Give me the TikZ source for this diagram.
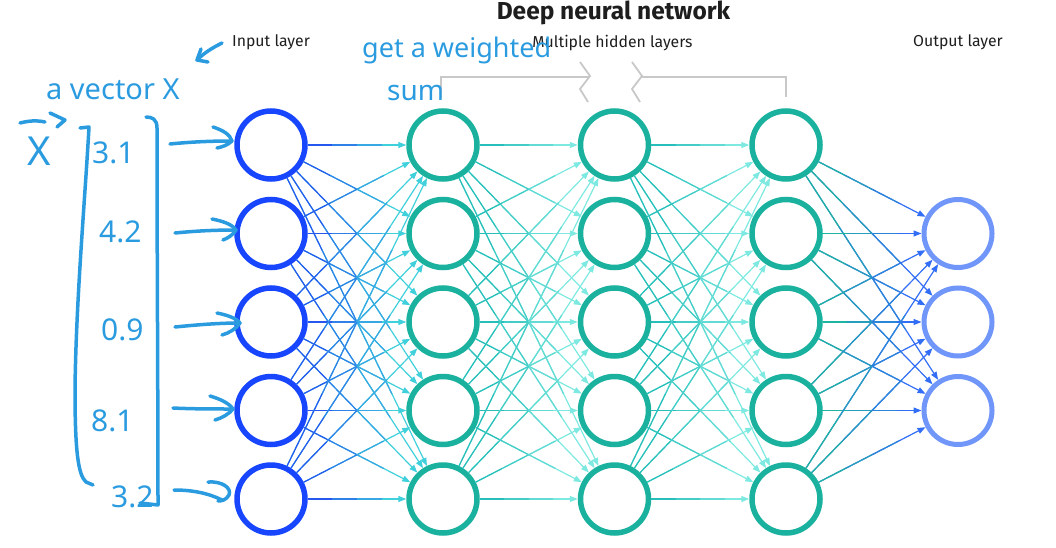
\documentclass[tikz,border=0pt]{standalone}
\usepackage{fontspec}
\setmainfont{Fira Sans}
\newfontfamily\hand{Noto Sans}
\usetikzlibrary{arrows.meta}
\definecolor{inc}{RGB}{24,70,255}
\definecolor{hidc}{RGB}{26,178,158}
\definecolor{outc}{RGB}{112,150,250}
\definecolor{handc}{RGB}{43,155,224}
\definecolor{grayc}{RGB}{200,200,200}
\definecolor{txtc}{RGB}{30,30,30}
\definecolor{cAs}{RGB}{38,88,240}
\definecolor{cAe}{RGB}{64,208,220}
\definecolor{cBs}{RGB}{40,190,185}
\definecolor{cBe}{RGB}{125,233,224}
\definecolor{cDs}{RGB}{30,180,160}
\definecolor{cDe}{RGB}{50,110,245}
\newcommand\gconn[4]{%
  \draw[conn, draw=#4, -{Triangle[length=8pt,width=6pt]}, #4] (#1) -- (#2)
     coordinate[pos=.25] (g1) coordinate[pos=.5] (g2) coordinate[pos=.75] (g3);
  \draw[conn, draw=#3] (#1) -- (g1);
  \draw[conn, draw=#3!67!#4] (g1) -- (g2);
  \draw[conn, draw=#3!33!#4] (g2) -- (g3);
}
\begin{document}
\begin{tikzpicture}[x=1pt,y=-1pt,
  neuron/.style={circle, minimum size=68pt, inner sep=0pt, line width=5.5pt, fill=white},
  innode/.style={neuron, draw=inc},
  hidnode/.style={neuron, draw=hidc},
  outnode/.style={neuron, draw=outc, line width=5pt},
  conn/.style={line width=1.2pt},
  lbl/.style={font=\fontsize{15.8}{18}\selectfont, text=txtc, anchor=base},
  hw/.style={line width=3.5pt, draw=handc, line cap=round, line join=round},
  hwtext/.style={text=handc, inner sep=0pt, anchor=base west},
  brk/.style={draw=grayc, line width=1.8pt}
]
\useasboundingbox (0,0) rectangle (1056,548);

% titles
\node[font=\fontsize{24.5}{28}\selectfont\bfseries, text=txtc, anchor=base] (title) at (613.5,19.5) {Deep neural network};
\node[lbl] (linput) at (271,47) {Input layer};
\node[lbl] (lhidden) at (612.5,48) {Multiple hidden layers};
\node[lbl] (loutput) at (958,47) {Output layer};

% bracket with break marks
\coordinate (bl) at (441,98);
\coordinate (br) at (786,97);
\draw[brk] (bl) |- (590,77);
\draw[brk] (580,62) -- (590,76) -- (580,89) -- (588,102);
\draw[brk] (br) |- (642,77);
\draw[brk] (632,62) -- (642,76) -- (632,89) -- (640,102);

% neurons
\foreach \r/\y in {1/145,2/233.5,3/322,4/410.5,5/499} {
  \node[innode] (a\r) at (271,\y) {};
  \node[hidnode] (b\r) at (443,\y) {};
  \node[hidnode] (c\r) at (614.5,\y) {};
  \node[hidnode] (d\r) at (786,\y) {};
}
\foreach \r/\y in {2/233.5,3/322,4/410.5} {
  \node[outnode] (e\r) at (958,\y) {};
}

% connectors
\foreach \i in {1,...,5} {
  \foreach \j in {1,...,5} {
    \gconn{a\i}{b\j}{cAs}{cAe}
    \gconn{b\i}{c\j}{cBs}{cBe}
    \gconn{c\i}{d\j}{cBs}{cBe}
  }
  \foreach \j in {2,3,4} {
    \gconn{d\i}{e\j}{cDs}{cDe}
  }
}

% handwritten annotations
\node[hwtext, font=\hand\fontsize{29}{30}\selectfont] (avec) at (46,100) {a vector X};
\node[hwtext, font=\hand\fontsize{27}{30}\selectfont] (gws) at (362,58) {get a weighted};
\node[hwtext, font=\hand\fontsize{28}{30}\selectfont] (sum) at (387,101) {sum};
\node[hwtext, font=\hand\fontsize{40}{40}\selectfont] (xvec) at (27,166) {X};
\node[hwtext, font=\hand\fontsize{30}{30}\selectfont] (v1) at (92,164) {3.1};
\node[hwtext, font=\hand\fontsize{30}{30}\selectfont] (v2) at (99,242) {4.2};
\node[hwtext, font=\hand\fontsize{30}{30}\selectfont] (v3) at (101,340) {0.9};
\node[hwtext, font=\hand\fontsize{30}{30}\selectfont] (v4) at (91,431) {8.1};
\node[hwtext, font=\hand\fontsize{30}{30}\selectfont] (v5) at (111,507) {3.2};

% arrow to "Input layer"
\draw[hw] (222,43) .. controls (212,48) and (204,53) .. (197,60);
\draw[hw] (201,49) -- (197,60) -- (208,62);
% vector arrow over X
\draw[hw] (20,123) .. controls (28,121) and (36,120) .. (45,122);
\draw[hw] (50,113) -- (65,120) -- (57,127);
% left bracket
\draw[hw] (80,128) -- (89,127) .. controls (85,200) and (76,300) .. (75,390)
  .. controls (75,450) and (78,475) .. (86,482) -- (93,485);
% right bracket
\draw[hw] (146,117) .. controls (152,117) and (157,119) .. (157,128)
  .. controls (157,250) and (158,400) .. (158,505) -- (140,503);
% input arrows
\draw[hw] (170,144) .. controls (190,142) and (210,141) .. (232,141);
\draw[hw] (213,127) .. controls (222,130) and (230,134) .. (232,141) .. controls (228,145) and (222,147) .. (217,148);
\draw[hw] (175,233) .. controls (195,231) and (215,230) .. (236,230);
\draw[hw] (212,219) .. controls (222,221) and (232,224) .. (236,230) .. controls (233,235) and (228,238) .. (223,240);
\draw[hw] (175,327) .. controls (195,325) and (218,323) .. (240,323);
\draw[hw] (217,313) .. controls (227,315) and (236,318) .. (240,323) .. controls (236,329) and (229,333) .. (222,335);
\draw[hw] (173,408) .. controls (193,409) and (213,409) .. (233,409);
\draw[hw] (210,396) .. controls (220,399) and (229,403) .. (233,409) .. controls (229,414) and (222,418) .. (215,420);
\draw[hw] (174,490) .. controls (192,490) and (208,493) .. (222,500);
\draw[hw] (208,482) .. controls (222,481) and (232,488) .. (229,495) .. controls (226,500) and (222,501) .. (218,501);
\end{tikzpicture}
\end{document}
